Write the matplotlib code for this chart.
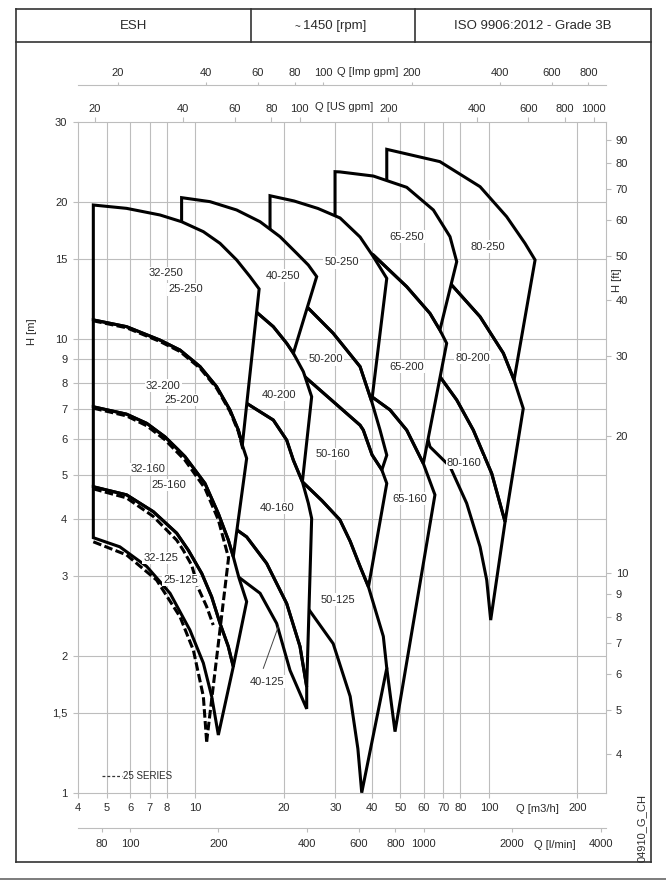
import matplotlib
matplotlib.use('Agg')
import matplotlib.pyplot as plt
from matplotlib.patches import Polygon
from matplotlib.collections import LineCollection
from matplotlib.lines import Line2D
from matplotlib.ticker import NullLocator

plt.rcParams['font.family'] = ['Liberation Sans', 'DejaVu Sans']

# ---------------- data (Q in m3/h, H in m) ----------------
# each family: curves from the top down; a pump lies between two curves
q32_a = [4.5, 5.84, 7.59, 8.99, 10.66, 12.15, 13.84, 15.37, 16.51]
h32_a = [19.7, 19.37, 18.73, 18.10, 17.21, 16.22, 14.91, 13.70, 12.87]
q32_b = [4.5, 5.84, 7.59, 8.88, 10.39, 11.83, 13.13, 14.03, 14.47, 14.97]
h32_b = [11.0, 10.63, 9.93, 9.44, 8.68, 7.84, 6.97, 6.29, 5.83, 5.45]
q32_c = [4.5, 5.84, 6.84, 7.89, 8.76, 9.23, 10.80, 11.99, 12.97, 13.48, 14.10, 14.97]
h32_c = [7.08, 6.82, 6.51, 6.08, 5.69, 5.50, 4.80, 4.12, 3.60, 3.31, 2.97, 2.635]
q32_d = [4.5, 5.84, 7.20, 8.65, 9.48, 10.53, 11.38, 12.15, 12.96, 13.48]
h32_d = [4.72, 4.53, 4.16, 3.73, 3.42, 3.04, 2.70, 2.36, 2.10, 1.895]
q32_e = [4.5, 5.54, 6.84, 8.21, 9.60, 10.66, 11.38, 11.99]
h32_e = [3.645, 3.48, 3.15, 2.75, 2.28, 1.93, 1.63, 1.34]
br32 = [8, 9, 9, 7]   # lower right corner of each pump, index on the curve below

q40_a = [8.99, 11.23, 13.84, 16.63, 19.44, 22.17, 24.28, 25.92]
h40_a = [20.45, 20.04, 19.21, 18.10, 16.78, 15.42, 14.53, 13.70]
q40_b = [8.99, 12.0, 16.2, 18.45, 20.49, 21.59, 23.35, 24.92]
h40_b = [15.0, 13.8, 11.43, 10.63, 9.77, 9.29, 8.46, 7.45]
q40_c = [8.99, 12.0, 15.0, 18.45, 20.49, 21.59, 23.17, 24.28, 24.92]
h40_c = [11.0, 9.5, 7.2, 6.62, 5.98, 5.40, 4.84, 4.34, 4.02]
q40_d = [8.99, 12.0, 13.88, 14.97, 17.51, 20.49, 22.74, 23.97]
h40_d = [8.0, 5.2, 3.79, 3.66, 3.20, 2.61, 2.10, 1.71]
q40_e = [8.99, 12.0, 14.1, 16.63, 18.94, 21.03, 22.74, 23.97]
h40_e = [4.5, 2.8, 2.98, 2.75, 2.36, 1.86, 1.655, 1.53]
br40 = [5, 6, 7, 7]

q50_a = [17.98, 21.7, 26.18, 31.13, 36.42, 40.42, 44.9]
h50_a = [20.65, 20.11, 19.36, 18.45, 16.75, 15.16, 13.58]
q50_b = [17.98, 23.97, 29.5, 36.42, 39.9, 42.6, 44.9]
h50_b = [15.5, 11.77, 10.28, 8.68, 7.27, 6.29, 5.54]
q50_c = [17.98, 23.6, 29.5, 36.42, 37.36, 40.0, 43.2, 44.9]
h50_c = [11.0, 8.25, 7.27, 6.45, 6.29, 5.55, 5.14, 4.80]
q50_d = [17.98, 23.17, 27.0, 31.1, 33.7, 36.42, 38.9, 43.7, 44.9]
h50_d = [6.0, 4.84, 4.40, 3.99, 3.58, 3.15, 2.84, 2.21, 1.88]
q50_e = [17.98, 24.4, 29.5, 33.7, 35.8, 36.9]
h50_e = [3.5, 2.53, 2.13, 1.63, 1.25, 1.0]
br50 = [4, 6, 6, 5]

q65_a = [29.93, 31.13, 40.42, 52.5, 64.7, 73.7, 77.7]
h65_a = [23.33, 23.30, 22.82, 21.55, 19.21, 16.78, 14.78]
q65_b = [29.93, 40.42, 52.5, 63.0, 68.1, 71.8]
h65_b = [17.0, 15.29, 13.02, 11.37, 10.45, 9.77]
q65_c = [29.93, 40.06, 46.05, 52.5, 59.8, 65.5]
h65_c = [9.0, 7.44, 6.97, 6.29, 5.31, 4.53]
q65_d = [36.0, 44.9, 47.9]
h65_d = [2.5, 1.88, 1.363]
br65 = [4, 4, 2]

q80_a = [44.9, 68.1, 93.3, 114.9, 132.7, 143.6]
h80_a = [26.13, 24.55, 21.62, 18.57, 16.22, 14.91]
q80_b = [44.9, 60.0, 74.7, 93.3, 112.0, 121.8, 130.9]
h80_b = [20.0, 15.5, 13.13, 11.18, 9.29, 8.11, 7.02]
q80_c = [50.0, 60.0, 68.1, 77.7, 88.5, 102.2, 113.5]
h80_c = [12.0, 9.6, 8.25, 7.33, 6.29, 5.05, 3.95]
q80_d = [50.0, 60.0, 63.0, 73.7, 84.0, 93.3, 98.3, 101.4]
h80_d = [8.0, 6.5, 5.78, 5.23, 4.34, 3.48, 2.94, 2.40]
br80 = [5, 6, 7]

# 25 series (dashed)
q25_200 = [4.5, 5.84, 7.59, 8.88, 10.39, 11.83, 13.13, 14.03, 14.6]
h25_200 = [10.95, 10.57, 9.86, 9.37, 8.61, 7.78, 6.92, 6.24, 5.65]
q25_160 = [4.5, 5.84, 6.84, 7.89, 9.23, 10.8, 11.99, 12.99, 10.94]
h25_160 = [7.03, 6.76, 6.43, 5.99, 5.40, 4.68, 3.99, 3.29, 1.295]
q25_125 = [4.5, 5.84, 7.20, 8.65, 9.11, 9.73, 10.25, 10.94, 11.52]
h25_125 = [4.67, 4.46, 4.06, 3.60, 3.42, 3.17, 2.82, 2.57, 2.34]
q25_min = [4.5, 5.84, 7.39, 8.88, 9.86, 10.66, 10.94]
h25_min = [3.57, 3.34, 2.94, 2.44, 2.06, 1.63, 1.295]

lab_names = ['32-250', '25-250', '40-250', '50-250', '65-250', '80-250',
             '32-200', '25-200', '40-200', '50-200', '65-200', '80-200',
             '32-160', '25-160', '40-160', '50-160', '65-160', '80-160',
             '32-125', '25-125', '40-125', '50-125']
lab_q = [7.96, 9.31, 19.86, 31.53, 52.5, 99.1, 7.79, 8.99, 19.24, 27.82, 52.5, 88.1,
         6.89, 8.16, 19.04, 29.5, 53.6, 82.5, 7.65, 8.93, 17.51, 30.56]
lab_h = [13.93, 12.85, 13.76, 14.73, 16.78, 15.94, 7.88, 7.33, 7.52, 9.01, 8.68, 9.08,
         5.16, 4.76, 4.24, 5.57, 4.44, 5.33, 3.29, 2.94, 1.756, 2.66]
lead_q = [17.06, 19.18]
lead_h = [1.879, 2.32]

q_ticks = [4, 5, 6, 7, 8, 10, 20, 30, 40, 50, 60, 70, 80, 100, 200]
h_ticks = [1, 1.5, 2, 3, 4, 5, 6, 7, 8, 9, 10, 15, 20, 30]
h_labels = ['1', '1,5', '2', '3', '4', '5', '6', '7', '8', '9', '10', '15', '20', '30']
ft_ticks = [4, 5, 6, 7, 8, 9, 10, 20, 30, 40, 50, 60, 70, 80, 90]
us_ticks = [20, 40, 60, 80, 100, 200, 400, 600, 800, 1000]
imp_ticks = [20, 40, 60, 80, 100, 200, 400, 600, 800]
lmin_ticks = [80, 100, 200, 400, 600, 800, 1000, 2000, 4000]
grid_q = [5, 6, 7, 8, 10, 20, 30, 40, 50, 60, 70, 80, 100, 200]
grid_h = [1.5, 2, 3, 4, 5, 6, 7, 8, 9, 10, 15, 20]

US_GPM = 0.2271247   # m3/h per US gpm
IMP_GPM = 0.2727654  # m3/h per Imp gpm
FT = 0.3048
Q_LO, Q_HI, H_LO, H_HI = 4, 250, 1, 30

# ---------------- figure ----------------
W, H = 666, 880
fig = plt.figure(figsize=(W / 100, H / 100), dpi=100)
TXT = '#2a2a2a'
GRID = '#bdbdbd'
FS = 8


def box(l, t, r, b):
    return [l / W, 1 - b / H, (r - l) / W, (b - t) / H]


def fline(x1, y1, x2, y2, **kw):
    fig.add_artist(Line2D([x1 / W, x2 / W], [1 - y1 / H, 1 - y2 / H],
                          transform=fig.transFigure, **kw))


def ftext(x, y, s, **kw):
    fig.text(x / W, 1 - y / H, s, color=TXT, ha='center', va='center', **kw)


# frame and header
for x1, y1, x2, y2 in [(16, 9, 651, 9), (16, 41.7, 651, 41.7), (16, 862.3, 651, 862.3),
                       (16, 9, 16, 862.3), (651, 9, 651, 862.3),
                       (251.3, 9, 251.3, 41.7), (415.3, 9, 415.3, 41.7)]:
    fline(x1, y1, x2, y2, color='#333', lw=1.2)
fline(0, 878.5, 666, 878.5, color='#666', lw=1.2)
ftext(134, 26, 'ESH', fontsize=9.5)
ftext(297, 27, '~', fontsize=7)
ftext(335, 26, '1450 [rpm]', fontsize=9.5)
ftext(533, 26, 'ISO 9906:2012 - Grade 3B', fontsize=9.5)

ax = fig.add_axes(box(78.3, 122.1, 605.8, 792.7))
ax.set_xscale('log')
ax.set_yscale('log')
for s in ax.spines.values():
    s.set_color(GRID)
    s.set_linewidth(0.8)
    s.set_zorder(12)

grid_segs = [[(q, H_LO), (q, H_HI)] for q in grid_q] + [[(Q_LO, h), (Q_HI, h)] for h in grid_h]
ax.add_collection(LineCollection(grid_segs, colors=GRID, linewidths=0.8, zorder=0.5), autolim=False)


def pump_polys(curves, br):
    polys = []
    for i in range(len(curves) - 1):
        qt, ht = curves[i]
        qb, hb = curves[i + 1]
        k = br[i]
        pts = list(zip(qt, ht)) + list(zip(qb[:k + 1], hb[:k + 1]))[::-1]
        polys.append(pts)
    return polys


families = [
    ([(q80_a, h80_a), (q80_b, h80_b), (q80_c, h80_c), (q80_d, h80_d)], br80),
    ([(q65_a, h65_a), (q65_b, h65_b), (q65_c, h65_c), (q65_d, h65_d)], br65),
    ([(q50_a, h50_a), (q50_b, h50_b), (q50_c, h50_c), (q50_d, h50_d), (q50_e, h50_e)], br50),
    ([(q40_a, h40_a), (q40_b, h40_b), (q40_c, h40_c), (q40_d, h40_d), (q40_e, h40_e)], br40),
    ([(q32_a, h32_a), (q32_b, h32_b), (q32_c, h32_c), (q32_d, h32_d), (q32_e, h32_e)], br32),
]

# back families first; each family covers what lies behind it, grid redrawn inside
for k, (curves, br) in enumerate(families):
    polys = pump_polys(curves, br)
    z = 1 + k
    for pts in polys:
        ax.add_patch(Polygon(pts, closed=True, fc='white', ec='none', zorder=z))
    for pts in polys:
        clip = Polygon(pts, closed=True, transform=ax.transData)
        lc = LineCollection(grid_segs, colors=GRID, linewidths=0.8, zorder=z + 0.3)
        ax.add_collection(lc, autolim=False)
        lc.set_clip_path(clip)
    for pts in polys:
        ax.add_patch(Polygon(pts, closed=True, fc='none', ec='black', lw=2.2,
                             joinstyle='miter', zorder=z + 0.6))

for q, h in [(q25_200, h25_200), (q25_160, h25_160), (q25_125, h25_125), (q25_min, h25_min)]:
    ax.plot(q, h, color='black', lw=2.2, ls=(0, (2.8, 1.1)), zorder=9)

for name, q, h in zip(lab_names, lab_q, lab_h):
    ax.text(q, h, name, fontsize=FS, color=TXT, ha='center', va='center', zorder=20,
            bbox=dict(boxstyle='square,pad=0.12', fc='white', ec='none'))
ax.plot(lead_q, lead_h, color='#444', lw=0.7, zorder=19)

ax.plot([0.0444, 0.0823], [0.0249, 0.0249], transform=ax.transAxes, color='#333',
        lw=0.9, ls=(0, (2.3, 1.6)), zorder=20)
ax.text(0.0853, 0.0249, '25 SERIES', transform=ax.transAxes, fontsize=7, color=TXT,
        ha='left', va='center', zorder=20)

ax.set_xlim(Q_LO, Q_HI)
ax.set_ylim(H_LO, H_HI)
ax.set_xticks(q_ticks, [str(t) for t in q_ticks])
ax.set_yticks(h_ticks, h_labels)
ax.xaxis.set_minor_locator(NullLocator())
ax.yaxis.set_minor_locator(NullLocator())
ax.tick_params(axis='x', direction='out', length=3.5, width=0.8, color=GRID, pad=3.6,
               labelsize=FS, labelcolor=TXT)
ax.tick_params(axis='y', direction='out', length=3.5, width=0.8, color=GRID, pad=4.4,
               labelsize=FS, labelcolor=TXT)

# top: US gpm on the frame
ax_us = ax.twiny()
ax_us.set_xscale('log')
ax_us.set_xlim(Q_LO / US_GPM, Q_HI / US_GPM)
ax_us.set_xticks(us_ticks, [str(t) for t in us_ticks])
ax_us.xaxis.set_minor_locator(NullLocator())
ax_us.tick_params(axis='x', direction='out', length=3.5, width=0.8, color=GRID, pad=2.4,
                  labelsize=FS, labelcolor=TXT)
for s in ax_us.spines.values():
    s.set_visible(False)

# right: feet
ax_ft = ax.twinx()
ax_ft.set_yscale('log')
ax_ft.set_ylim(H_LO / FT, H_HI / FT)
ax_ft.set_yticks(ft_ticks, [str(t) for t in ft_ticks])
ax_ft.yaxis.set_minor_locator(NullLocator())
ax_ft.tick_params(axis='y', direction='out', length=3.5, width=0.8, color=GRID, pad=3.7,
                  labelsize=FS, labelcolor=TXT)
for s in ax_ft.spines.values():
    s.set_visible(False)

# Imp gpm scale above
ax_imp = fig.add_axes(box(78.3, 84.99, 605.8, 85.0))
ax_imp.set_xscale('log')
ax_imp.set_xlim(Q_LO / IMP_GPM, Q_HI / IMP_GPM)
ax_imp.patch.set_visible(False)
ax_imp.set_yticks([])
for n, s in ax_imp.spines.items():
    s.set_visible(n == 'top')
    s.set_color(GRID)
    s.set_linewidth(0.8)
ax_imp.xaxis.set_ticks_position('top')
ax_imp.set_xticks(imp_ticks, [str(t) for t in imp_ticks])
ax_imp.xaxis.set_minor_locator(NullLocator())
ax_imp.tick_params(axis='x', direction='out', length=2.5, width=0.8, color=GRID, pad=2.4,
                   labelsize=FS, labelcolor=TXT)

# l/min scale below
ax_l = fig.add_axes(box(78.3, 828.3, 605.8, 828.31))
ax_l.set_xscale('log')
ax_l.set_xlim(Q_LO * 1000 / 60, Q_HI * 1000 / 60)
ax_l.patch.set_visible(False)
ax_l.set_yticks([])
for n, s in ax_l.spines.items():
    s.set_visible(n == 'bottom')
    s.set_color(GRID)
    s.set_linewidth(0.8)
ax_l.set_xticks(lmin_ticks, [str(t) for t in lmin_ticks])
ax_l.xaxis.set_minor_locator(NullLocator())
ax_l.tick_params(axis='x', direction='out', length=3.0, width=0.8, color=GRID, pad=4.6,
                 labelsize=FS, labelcolor=TXT)

# axis titles
ftext(367.7, 71.7, 'Q [Imp gpm]', fontsize=FS)
ftext(344, 107, 'Q [US gpm]', fontsize=FS)
ftext(537.5, 809, 'Q [m3/h]', fontsize=FS)
ftext(554.7, 845, 'Q [l/min]', fontsize=FS)
ftext(32, 332, 'H [m]', fontsize=FS, rotation=90)
ftext(617, 280, 'H [ft]', fontsize=FS, rotation=90)
ftext(641.7, 827.5, '04910_G_CH', fontsize=FS, rotation=90)

fig.savefig('out.png', dpi=100)
